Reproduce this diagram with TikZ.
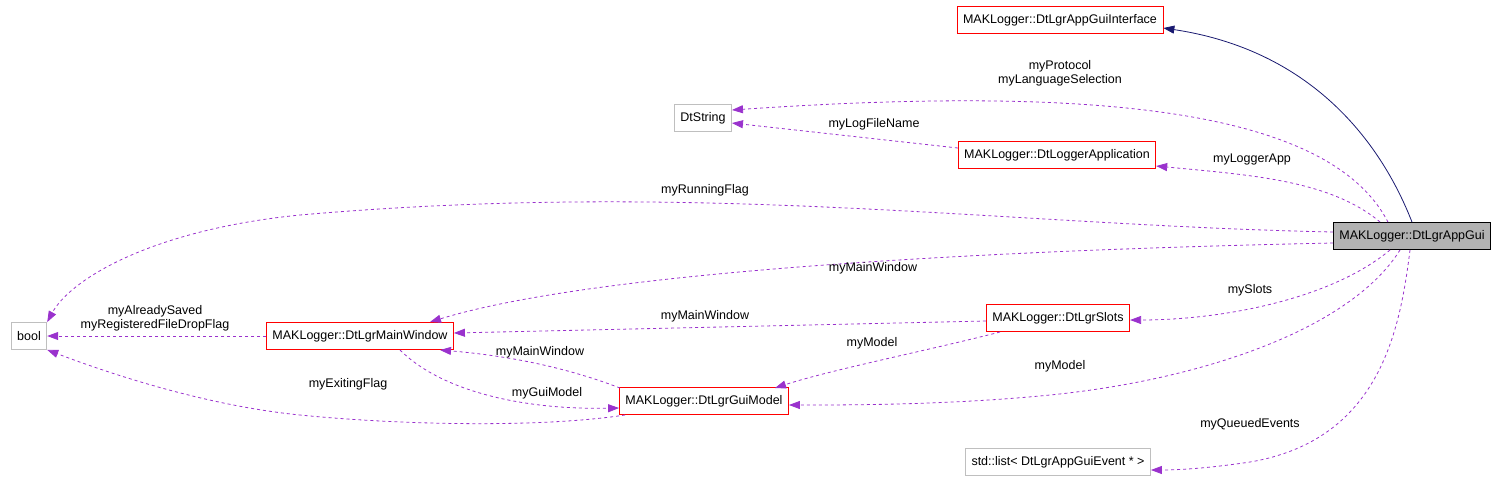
\documentclass[tikz,border=0pt]{standalone}
\usepackage{fontspec}
\setmainfont{Liberation Sans}
\usetikzlibrary{arrows.meta}
\definecolor{pur}{HTML}{9A32CD}
\definecolor{nav}{HTML}{191970}
\begin{document}
\begin{tikzpicture}[x=1pt,y=-1pt,
 box/.style={draw=red,thick,minimum height=27pt,inner xsep=6pt,font=\fontsize{12.5}{14}\selectfont},
 gbox/.style={box,draw=black!25},
 dep/.style={pur,dashed,thick,-{Triangle[length=11pt,width=8pt]}},
 lab/.style={font=\fontsize{12.5}{14}\selectfont,align=center,inner sep=1pt}]
\useasboundingbox (0,0) rectangle (1507,483);
\node[box] (ifc) at (1060,20) {MAKLogger::DtLgrAppGuiInterface};
\node[gbox] (str) at (703,118) {DtString};
\node[box] (app) at (1057,155) {MAKLogger::DtLoggerApplication};
\node[box,draw=black,fill=black!30] (gui) at (1412,236) {MAKLogger::DtLgrAppGui};
\node[gbox] (bool) at (29,336) {bool};
\node[box] (mw) at (360,336) {MAKLogger::DtLgrMainWindow};
\node[box] (sl) at (1058,318) {MAKLogger::DtLgrSlots};
\node[box] (gm) at (704,401) {MAKLogger::DtLgrGuiModel};
\node[gbox] (lst) at (1058,462) {std::list< DtLgrAppGuiEvent * >};

\draw[nav,thick,-{Triangle[length=11pt,width=8pt]}] (gui.north) .. controls (1380,140) and (1310,50) .. (ifc.east |- 0,28);
\draw[dep] (gui.north west) ++(55,0) .. controls (1330,110) and (1100,85) .. (str.east |- 0,110);
\node[lab] at (1060,73) {myProtocol\\myLanguageSelection};
\draw[dep] (app.west |- 0,148) -- (str.east |- 0,123);
\node[lab] at (874,124) {myLogFileName};
\draw[dep] (1380,222) .. controls (1330,180) and (1250,175) .. (app.east |- 0,166);
\node[lab] at (1252,159) {myLoggerApp};
\draw[dep] (gui.west |- 0,232) .. controls (1000,225) and (700,180) .. (300,215) .. controls (150,230) and (70,280) .. (bool.north east);
\node[lab] at (705,190) {myRunningFlag};
\draw[dep] (gui.west |- 0,243) .. controls (1000,250) and (600,270) .. (430,322);
\node[lab] at (873,268) {myMainWindow};
\draw[dep] (mw.west) -- (bool.east);
\node[lab] at (155,318) {myAlreadySaved\\myRegisteredFileDropFlag};
\draw[dep] (sl.west |- 0,321) -- (mw.east |- 0,333);
\node[lab] at (705,316) {myMainWindow};
\draw[dep] (1390,250) .. controls (1330,300) and (1220,320) .. (sl.east |- 0,320);
\node[lab] at (1250,290) {mySlots};
\draw[dep] (1000,332) .. controls (930,350) and (830,370) .. (775,388);
\node[lab] at (872,343) {myModel};
\draw[dep] (620,388) .. controls (560,365) and (500,355) .. (440,350);
\node[lab] at (540,352) {myMainWindow};
\draw[dep] (400,350) .. controls (440,390) and (520,410) .. (gm.west |- 0,408);
\node[lab] at (547,393) {myGuiModel};
\draw[dep] (625,415) .. controls (540,428) and (400,425) .. (300,415) .. controls (200,405) and (100,370) .. (bool.south east);
\node[lab] at (348,384) {myExitingFlag};
\draw[dep] (1400,250) .. controls (1350,330) and (1200,380) .. (1050,395) .. controls (950,405) and (850,405) .. (gm.east |- 0,405);
\node[lab] at (1060,366) {myModel};
\draw[dep] (1410,250) .. controls (1400,330) and (1380,440) .. (1250,462) .. controls (1210,468) and (1180,470) .. (lst.east |- 0,470);
\node[lab] at (1250,424) {myQueuedEvents};
\end{tikzpicture}
\end{document}
